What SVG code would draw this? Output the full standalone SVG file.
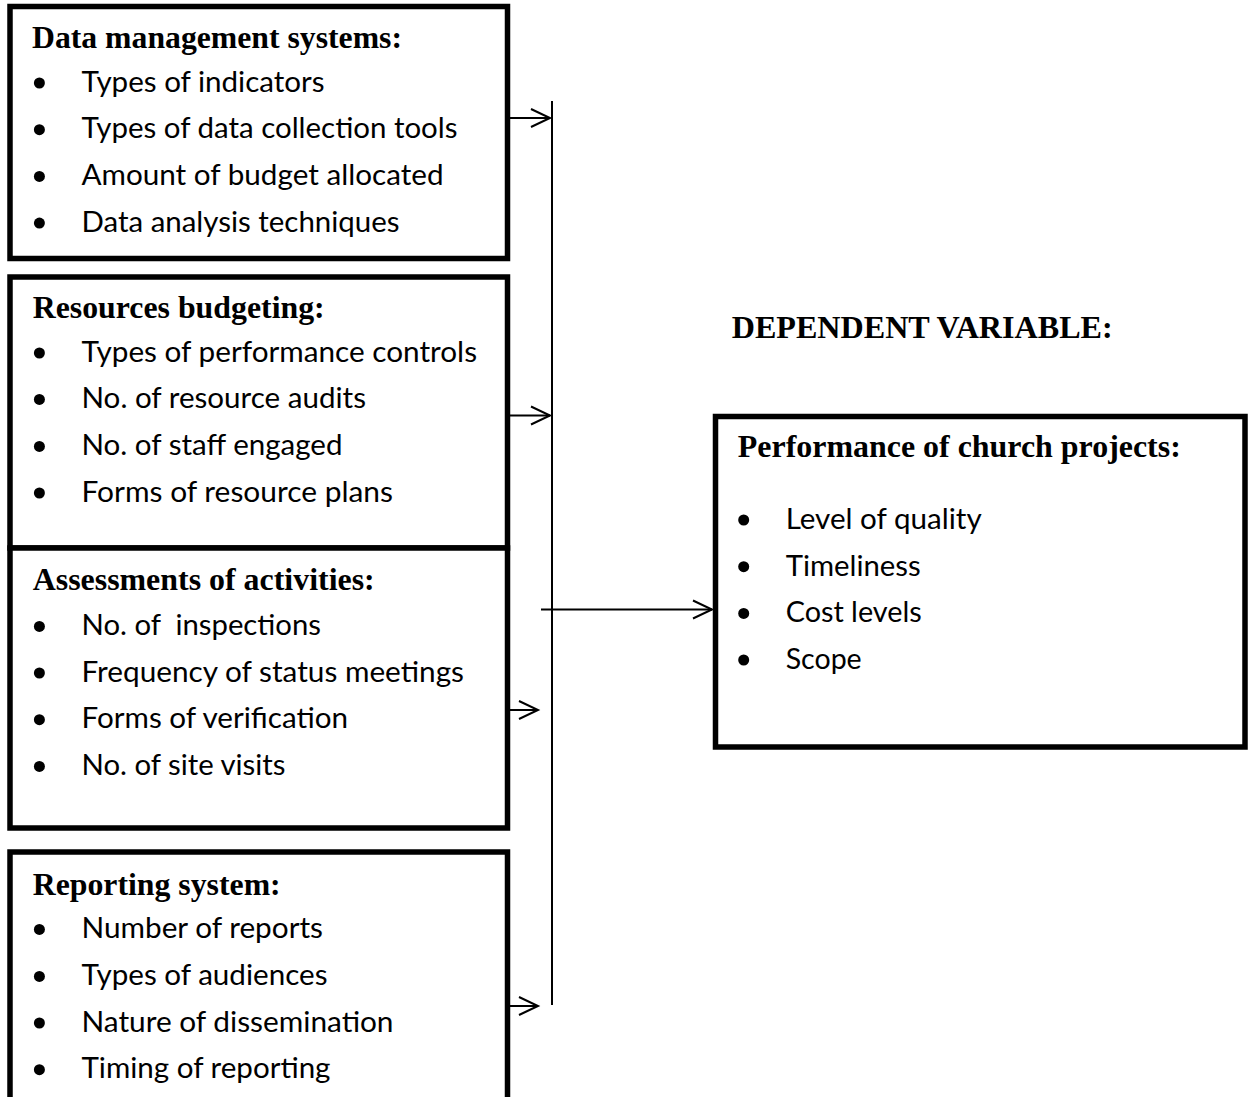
<svg xmlns="http://www.w3.org/2000/svg" width="1248" height="1097" viewBox="0 0 1248 1097">
  <style>
    .box { fill: #ffffff; stroke: #000000; stroke-width: 5.5; }
    .head { font-family: "Liberation Serif", "Times New Roman", serif; font-weight: bold; font-size: 32px; fill: #000000; }
    .item { font-family: Lato, "Open Sans", sans-serif; font-size: 28px; fill: #000000; white-space: pre; }
    .dot { fill: #000000; }
    .conn { fill: none; stroke: #000000; stroke-width: 2; }
  </style>
  <defs>
    <marker id="arrow" markerUnits="userSpaceOnUse" markerWidth="24" markerHeight="24" viewBox="-22 -12 24 24" refX="0" refY="0" orient="auto" overflow="visible">
      <path d="M-19,-9 L0,0 L-19,9" fill="none" stroke="#000000" stroke-width="2"/>
    </marker>
  </defs>
  <rect width="1248" height="1097" fill="#ffffff"/>

  <!-- Independent variable: data management systems -->
  <g id="data-management">
    <rect class="box" x="10" y="6.5" width="497.5" height="252"/>
    <text class="head" x="32" y="48.3" textLength="370" lengthAdjust="spacingAndGlyphs">Data management systems:</text>
    <circle class="dot" cx="39.4" cy="83" r="5.5"/>
    <text class="item" x="81.5" y="91.7" textLength="243" lengthAdjust="spacingAndGlyphs">Types of indicators</text>
    <circle class="dot" cx="39.4" cy="129.7" r="5.5"/>
    <text class="item" x="81.5" y="138.3" textLength="376" lengthAdjust="spacingAndGlyphs">Types of data collection tools</text>
    <circle class="dot" cx="39.4" cy="176.4" r="5.5"/>
    <text class="item" x="81.5" y="185" textLength="362" lengthAdjust="spacingAndGlyphs">Amount of budget allocated</text>
    <circle class="dot" cx="39.4" cy="223.1" r="5.5"/>
    <text class="item" x="81.5" y="231.7" textLength="318" lengthAdjust="spacingAndGlyphs">Data analysis techniques</text>
  </g>

  <!-- Independent variable: resources budgeting -->
  <g id="resources-budgeting">
    <rect class="box" x="10" y="277" width="497.5" height="271"/>
    <text class="head" x="32.7" y="318.3" textLength="292" lengthAdjust="spacingAndGlyphs">Resources budgeting:</text>
    <circle class="dot" cx="39.4" cy="353" r="5.5"/>
    <text class="item" x="81.5" y="361.7" textLength="395.5" lengthAdjust="spacingAndGlyphs">Types of performance controls</text>
    <circle class="dot" cx="39.4" cy="399.4" r="5.5"/>
    <text class="item" x="81.5" y="408" textLength="284.5" lengthAdjust="spacingAndGlyphs">No. of resource audits</text>
    <circle class="dot" cx="39.4" cy="446.4" r="5.5"/>
    <text class="item" x="81.5" y="455" textLength="261" lengthAdjust="spacingAndGlyphs">No. of staff engaged</text>
    <circle class="dot" cx="39.4" cy="493" r="5.5"/>
    <text class="item" x="81.5" y="501.7" textLength="311.5" lengthAdjust="spacingAndGlyphs">Forms of resource plans</text>
  </g>

  <!-- Independent variable: assessments of activities -->
  <g id="assessments">
    <rect class="box" x="10" y="548" width="497.5" height="280"/>
    <text class="head" x="32.7" y="590" textLength="342" lengthAdjust="spacingAndGlyphs">Assessments of activities:</text>
    <circle class="dot" cx="39.4" cy="626.4" r="5.5"/>
    <text class="item" x="81.5" y="635" textLength="239.5" lengthAdjust="spacingAndGlyphs">No. of  inspections</text>
    <circle class="dot" cx="39.4" cy="673" r="5.5"/>
    <text class="item" x="81.5" y="681.7" textLength="382.5" lengthAdjust="spacingAndGlyphs">Frequency of status meetings</text>
    <circle class="dot" cx="39.4" cy="719.7" r="5.5"/>
    <text class="item" x="81.5" y="728.3" textLength="266.5" lengthAdjust="spacingAndGlyphs">Forms of verification</text>
    <circle class="dot" cx="39.4" cy="766.4" r="5.5"/>
    <text class="item" x="81.5" y="775" textLength="204" lengthAdjust="spacingAndGlyphs">No. of site visits</text>
  </g>

  <!-- Independent variable: reporting system -->
  <g id="reporting-system">
    <rect class="box" x="10" y="852" width="497.5" height="260"/>
    <text class="head" x="32.7" y="895" textLength="248" lengthAdjust="spacingAndGlyphs">Reporting system:</text>
    <circle class="dot" cx="39.4" cy="929.4" r="5.5"/>
    <text class="item" x="81.5" y="938" textLength="241.5" lengthAdjust="spacingAndGlyphs">Number of reports</text>
    <circle class="dot" cx="39.4" cy="976.4" r="5.5"/>
    <text class="item" x="81.5" y="985" textLength="246" lengthAdjust="spacingAndGlyphs">Types of audiences</text>
    <circle class="dot" cx="39.4" cy="1023" r="5.5"/>
    <text class="item" x="81.5" y="1031.7" textLength="312" lengthAdjust="spacingAndGlyphs">Nature of dissemination</text>
    <circle class="dot" cx="39.4" cy="1069.7" r="5.5"/>
    <text class="item" x="81.5" y="1078.3" textLength="249" lengthAdjust="spacingAndGlyphs">Timing of reporting</text>
  </g>

  <!-- Dependent variable caption -->
  <g id="dependent-label">
    <text class="head" x="731.7" y="338.3" textLength="381" lengthAdjust="spacingAndGlyphs">DEPENDENT VARIABLE:</text>
  </g>

  <!-- Dependent variable: performance of church projects -->
  <g id="performance">
    <rect class="box" x="715.5" y="416.5" width="529.5" height="330.5"/>
    <text class="head" x="737.8" y="457" textLength="443" lengthAdjust="spacingAndGlyphs">Performance of church projects:</text>
    <circle class="dot" cx="743.7" cy="520" r="5.5"/>
    <text class="item" x="785.7" y="529" textLength="196" lengthAdjust="spacingAndGlyphs">Level of quality</text>
    <circle class="dot" cx="743.7" cy="566.7" r="5.5"/>
    <text class="item" x="785.7" y="575.7" textLength="135" lengthAdjust="spacingAndGlyphs">Timeliness</text>
    <circle class="dot" cx="743.7" cy="613.4" r="5.5"/>
    <text class="item" x="785.7" y="622.3" textLength="136" lengthAdjust="spacingAndGlyphs">Cost levels</text>
    <circle class="dot" cx="743.7" cy="660" r="5.5"/>
    <text class="item" x="785.7" y="669" textLength="76" lengthAdjust="spacingAndGlyphs">Scope</text>
  </g>

  <!-- Connectors: collector bar, inputs and the output arrow -->
  <g id="connectors">
    <line class="conn" x1="552" y1="101" x2="552" y2="1005" stroke-width="1.8"/>
    <line class="conn" x1="510" y1="118" x2="550" y2="118" marker-end="url(#arrow)"/>
    <line class="conn" x1="510" y1="415.5" x2="550" y2="415.5" marker-end="url(#arrow)"/>
    <line class="conn" x1="541" y1="609.5" x2="712" y2="609.5" marker-end="url(#arrow)"/>
    <line class="conn" x1="510" y1="710" x2="538" y2="710" marker-end="url(#arrow)"/>
    <line class="conn" x1="510" y1="1006" x2="538" y2="1006" marker-end="url(#arrow)"/>
  </g>
</svg>
